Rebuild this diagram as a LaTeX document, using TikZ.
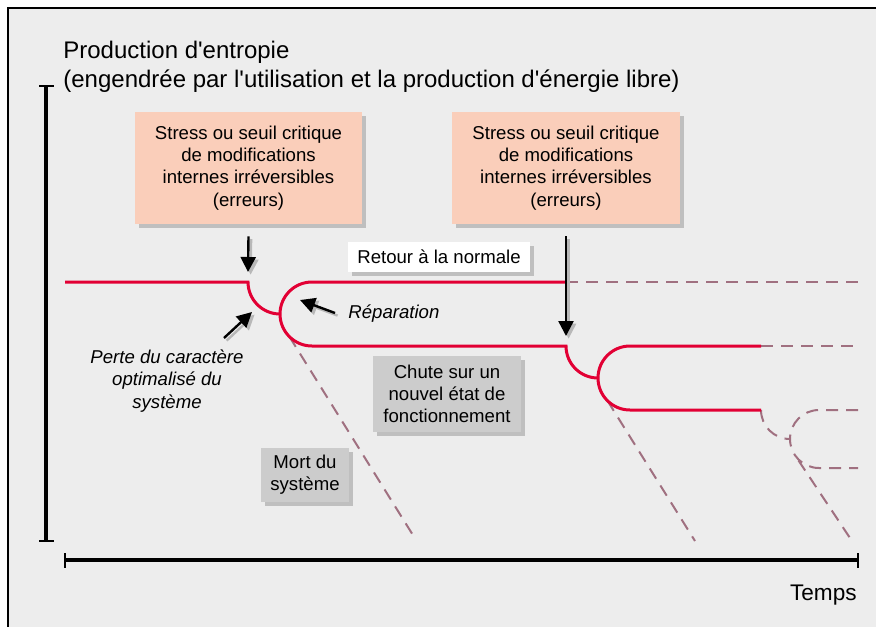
\documentclass[tikz,border=0pt]{standalone}
\usepackage{fontspec}
\setmainfont{Liberation Sans}
\usetikzlibrary{arrows.meta,shadows}

\definecolor{fond}{RGB}{237,237,237}
\definecolor{peche}{RGB}{250,206,186}
\definecolor{grisboite}{RGB}{204,204,204}
\definecolor{rouge}{RGB}{226,0,52}
\definecolor{mauve}{RGB}{160,112,128}

\begin{document}
\begin{tikzpicture}[x=0.5pt,y=-0.5pt,
    courbe/.style={line width=1.5pt,draw=rouge},
    pointille/.style={line width=1pt,draw=mauve,dash pattern=on 6pt off 4pt},
    fleche/.style={line width=1.2pt,-{Triangle[length=7.5pt,width=7.5pt]}},
    ombre/.style={draw=black!28,transform canvas={shift={(1.3pt,-1.3pt)}}},
    boite/.style={inner sep=0pt,align=center,font=\fontsize{9.3}{11.1}\selectfont,
        drop shadow={shadow xshift=2pt,shadow yshift=-2pt,fill=black!25,opacity=1}},
    legende/.style={inner sep=0pt,align=center,font=\fontsize{9.3}{11.2}\selectfont\itshape}]

    \useasboundingbox (0,0) rectangle (876,627);

    % fond et cadre
    \fill[fond] (8,8) rectangle (876,627);
    \draw[line width=0.75pt] (876,8) -- (8,8) -- (8,627);

    % axes
    \draw[line width=2pt] (46,86) -- (46,541);
    \draw[line width=1pt] (39,86) -- (54,86);
    \draw[line width=1pt] (39,541) -- (54,541);
    \draw[line width=2.2pt] (65,560) -- (858,560);
    \draw[line width=1pt] (65,553) -- (65,568);
    \draw[line width=1pt] (858,553) -- (858,568);

    \node[anchor=north west,align=left,inner sep=0pt,font=\fontsize{12}{14.5}\selectfont]
        (titre) at (63,41) {Production d\textquotesingle entropie\\(engendrée par l\textquotesingle utilisation et la production d\textquotesingle énergie libre)};
    \node[anchor=base east,inner sep=0pt,font=\fontsize{11.3}{13}\selectfont]
        (temps) at (857,600) {Temps};

    % boites
    \node[boite,fill=peche,minimum width=113.5pt,minimum height=56pt] (stress1) at (248.5,168)
        {Stress ou seuil critique\\de modifications\\internes irréversibles\\(erreurs)};
    \node[boite,fill=peche,minimum width=114pt,minimum height=56pt] (stress2) at (566,168)
        {Stress ou seuil critique\\de modifications\\internes irréversibles\\(erreurs)};
    \node[boite,fill=white,minimum width=91pt,minimum height=15pt] (retour) at (439,257)
        {Retour à la normale};
    \node[boite,fill=grisboite,minimum width=74pt,minimum height=38pt] (chute) at (447,394)
        {Chute sur un\\nouvel état de\\fonctionnement};
    \node[boite,fill=grisboite,minimum width=44pt,minimum height=27pt] (mort) at (305,475)
        {Mort du\\système};

    % legendes en italique
    \node[legende,anchor=west] (reparation) at (348,314) {Réparation};
    \node[legende] (perte) at (167,381) {Perte du caractère\\optimalisé du\\système};

    % points de la courbe
    \coordinate (coude1) at (248,282);
    \coordinate (coude2) at (566,346);
    \coordinate (reptip) at (300,300);
    \coordinate (reppied) at (335,313);
    \coordinate (pertetip) at (252,312);
    \coordinate (pertepied) at (224,338);
    \coordinate (mort1) at (289.4,336.6);
    \coordinate (fin1) at (416,540);
    \coordinate (mort2) at (607.4,400.6);
    \coordinate (fin2) at (695,541);
    \coordinate (mort3) at (798.5,460.5);
    \coordinate (fin3) at (852,541);

    % courbes en pointilles
    \draw[pointille] (coude2 |- coude1) -- (858,282);
    \draw[pointille] (761,346) -- (858,346);
    \draw[pointille] (761,410) arc[start angle=180,end angle=90,radius=29];
    \draw[pointille] (858,410) -- (819,410) arc[start angle=270,end angle=90,radius=29] -- (858,468);
    \draw[pointille] (mort1) -- (fin1);
    \draw[pointille] (mort2) -- (fin2);
    \draw[pointille] (mort3) -- (fin3);

    % courbe principale
    \draw[courbe] (65,282) -- (coude1) arc[start angle=180,end angle=90,radius=32];
    \draw[courbe] (coude2 |- coude1) -- (312,282) arc[start angle=270,end angle=90,radius=32]
        -- (coude2) arc[start angle=180,end angle=90,radius=32];
    \draw[courbe] (761,346) -- (630,346) arc[start angle=270,end angle=90,radius=32] -- (761,410);

    % fleches
    \draw[fleche,ombre] ([yshift=-6pt]stress1.south) -- ([yshift=5pt]coude1);
    \draw[fleche] ([yshift=-6pt]stress1.south) -- ([yshift=5pt]coude1);
    \draw[fleche,ombre] ([yshift=-6pt]stress2.south) -- ([yshift=5pt]coude2);
    \draw[fleche] ([yshift=-6pt]stress2.south) -- ([yshift=5pt]coude2);
    \draw[fleche,ombre] (reppied) -- (reptip);
    \draw[fleche] (reppied) -- (reptip);
    \draw[fleche,ombre] (pertepied) -- (pertetip);
    \draw[fleche] (pertepied) -- (pertetip);

\end{tikzpicture}
\end{document}
